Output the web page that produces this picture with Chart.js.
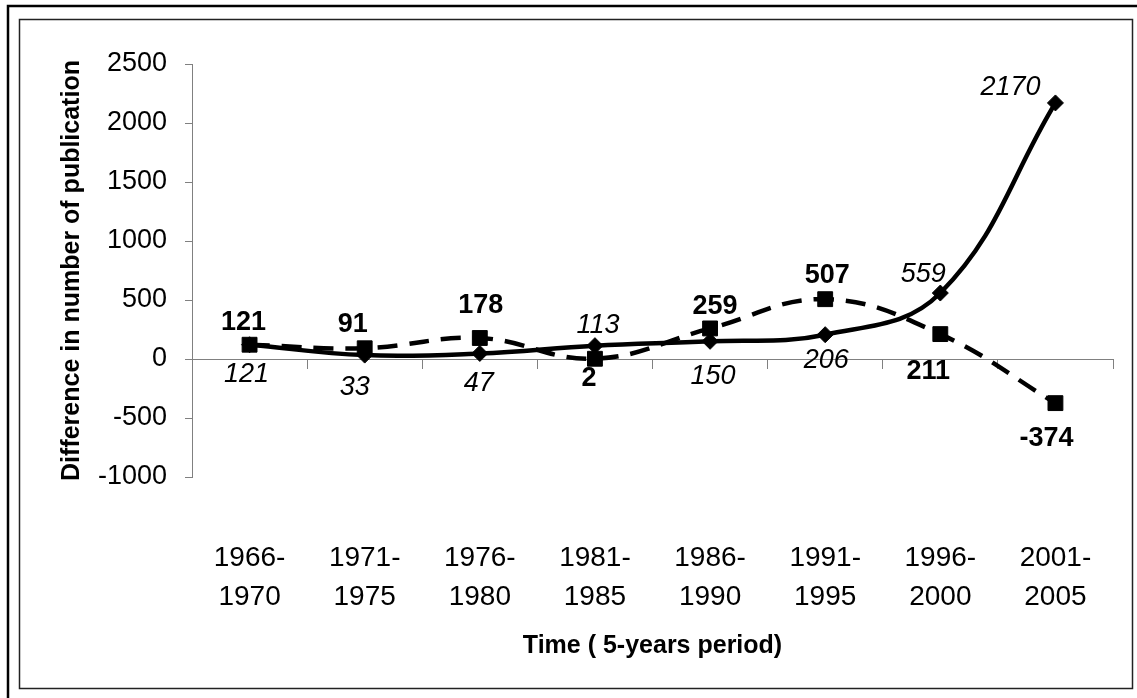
<!DOCTYPE html>
<html>
<head>
<meta charset="utf-8">
<script src="https://cdn.jsdelivr.net/npm/chart.js@4.4.0/dist/chart.umd.min.js"></script>
<style>
html,body{margin:0;padding:0;background:#fff;}
#wrap{width:1137px;height:698px;position:relative;}
</style>
</head>
<body>
<div id="wrap"><canvas id="c" width="1137" height="698"></canvas></div>
<script>
// ---- data ----
const categories = [['1966-','1970'],['1971-','1975'],['1976-','1980'],['1981-','1985'],['1986-','1990'],['1991-','1995'],['1996-','2000'],['2001-','2005']];
const solidValues  = [121, 33, 47, 113, 150, 206, 559, 2170];
const dashedValues = [121, 91, 178, 2, 259, 507, 211, -374];
const yMin = -1000, yMax = 2500, yStep = 500;
const xTitle = 'Time ( 5-years period)';
const yTitle = 'Difference in number of publication';

// ---- label placement (style) ----
const solidLabelOffsets  = [[-3,30],[-10,32],[-1,30],[3,-20],[3,35],[1,26],[-17,-19],[-45,-15]];
const dashedLabelOffsets = [[-6,-22],[-12,-24],[1,-32],[-6,20],[5,-22],[2,-24],[-12,37],[-9,35]];

const FONT = "'Liberation Sans', Arial, Helvetica, sans-serif";
Chart.defaults.font.family = FONT;
Chart.defaults.color = '#000';

const framePlugin = {
  id: 'frame',
  beforeDraw(chart) {
    const ctx = chart.ctx;
    ctx.save();
    ctx.fillStyle = '#fff';
    ctx.fillRect(0, 0, chart.width, chart.height);
    ctx.strokeStyle = '#000';
    ctx.lineWidth = 2.5;
    ctx.beginPath();
    ctx.moveTo(8, chart.height);
    ctx.lineTo(8, 6);
    ctx.lineTo(chart.width, 6);
    ctx.stroke();
    ctx.lineWidth = 1.5;
    ctx.strokeStyle = '#222';
    ctx.strokeRect(19.5, 19.5, 1113, 669);
    ctx.restore();
  }
};

const pointLabelPlugin = {
  id: 'pointLabels',
  afterDatasetsDraw(chart) {
    const ctx = chart.ctx;
    chart.data.datasets.forEach((ds, i) => {
      const meta = chart.getDatasetMeta(i);
      const st = ds.labelStyle;
      ctx.save();
      ctx.font = st.font;
      ctx.fillStyle = '#000';
      ctx.textAlign = 'center';
      ctx.textBaseline = 'middle';
      meta.data.forEach((pt, j) => {
        const off = st.offsets[j];
        ctx.fillText(String(ds.data[j]), pt.x + off[0], pt.y + off[1]);
      });
      ctx.restore();
    });
  }
};

new Chart(document.getElementById('c'), {
  type: 'line',
  data: {
    labels: categories,
    datasets: [
      {
        data: solidValues,
        borderColor: '#000',
        borderWidth: 4.5,
        tension: 0.4,
        pointStyle: 'rectRot',
        pointRadius: 8,
        pointBackgroundColor: '#000',
        pointBorderColor: '#000',
        pointBorderWidth: 1,
        clip: false,
        labelStyle: { font: 'italic 27px ' + FONT, offsets: solidLabelOffsets }
      },
      {
        data: dashedValues,
        borderColor: '#000',
        borderWidth: 4.5,
        borderDash: [20, 12],
        tension: 0.4,
        pointStyle: 'rect',
        pointRadius: 10.5,
        pointBackgroundColor: '#000',
        pointBorderColor: '#000',
        pointBorderWidth: 1,
        clip: false,
        labelStyle: { font: 'bold 27px ' + FONT, offsets: dashedLabelOffsets }
      }
    ]
  },
  options: {
    responsive: false,
    animation: false,
    devicePixelRatio: 1,
    layout: { padding: { left: 20, right: 24, top: 64, bottom: 20 } },
    plugins: { legend: { display: false }, tooltip: { enabled: false } },
    scales: {
      x: {
        type: 'category',
        position: 'bottom',
        offset: true,
        grid: { display: false, drawTicks: false },
        border: { display: false },
        ticks: { font: { size: 28, lineHeight: 1.39 }, color: '#000', padding: 62, maxRotation: 0, autoSkip: false },
        title: { display: true, text: xTitle, color: '#000', font: { size: 25, weight: 'bold' }, padding: { top: 0, bottom: 17 } },
        afterFit(s) { s.height = 201; s.paddingLeft = 0; s.paddingRight = 0; }
      },
      x2: {
        type: 'category',
        position: { y: 0 },
        offset: true,
        grid: { drawOnChartArea: false, drawTicks: true, tickLength: 9, offset: true, color: '#808080', lineWidth: 1 },
        border: { display: true, color: '#808080', width: 1 },
        ticks: { display: false },
        afterFit(s) { s.paddingLeft = 0; s.paddingRight = 0; }
      },
      y: {
        min: yMin,
        max: yMax,
        ticks: { stepSize: yStep, font: { size: 27 }, color: '#000', padding: 18, callback: v => String(v) },
        grid: { drawOnChartArea: false, drawTicks: true, tickLength: 7, color: '#808080' },
        border: { display: true, color: '#808080', width: 1 },
        title: { display: true, text: yTitle, color: '#000', font: { size: 25, weight: 'bold' }, padding: { top: 37, bottom: 0 } },
        afterFit(s) { s.width = 172; s.paddingTop = 0; s.paddingBottom = 0; }
      }
    }
  },
  plugins: [framePlugin, pointLabelPlugin]
});
</script>
</body>
</html>
